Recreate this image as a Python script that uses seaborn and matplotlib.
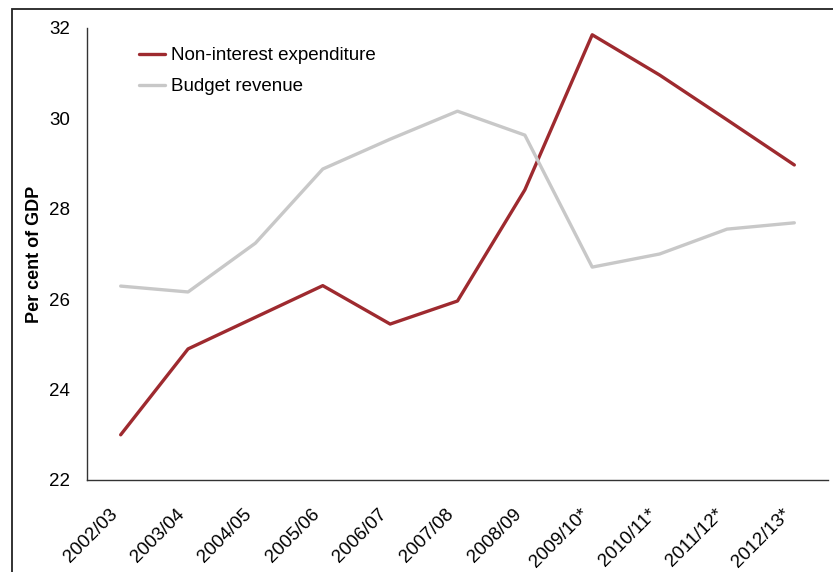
import matplotlib
matplotlib.use("Agg")
import matplotlib.pyplot as plt
import matplotlib.patches as mpatches
import matplotlib.transforms as mtransforms
import seaborn as sns
import pandas as pd

years = ["2002/03", "2003/04", "2004/05", "2005/06", "2006/07", "2007/08",
         "2008/09", "2009/10*", "2010/11*", "2011/12*", "2012/13*"]
expenditure = [23.0, 24.9, 25.6, 26.3, 25.45, 25.96, 28.42, 31.85, 30.96, 29.97, 28.97]
revenue = [26.29, 26.16, 27.24, 28.88, 29.54, 30.16, 29.63, 26.71, 27.0, 27.55, 27.69]

series_names = ["Non-interest expenditure", "Budget revenue"]
colors = ["#9E2A2F", "#C8C8C8"]

df = pd.concat([
    pd.DataFrame({"pos": range(len(years)), "value": expenditure, "series": series_names[0]}),
    pd.DataFrame({"pos": range(len(years)), "value": revenue, "series": series_names[1]}),
])

sns.set_theme(style="white")
plt.rcParams["font.family"] = ["Liberation Sans", "DejaVu Sans"]
plt.rcParams["text.color"] = "black"
plt.rcParams["axes.labelcolor"] = "black"
plt.rcParams["xtick.color"] = "black"
plt.rcParams["ytick.color"] = "black"

fig = plt.figure(figsize=(8.33, 5.72), dpi=100)
ax = fig.add_axes([87 / 833, 1 - 480 / 572, (828 - 87) / 833, (480 - 28) / 572])

sns.lineplot(data=df, x="pos", y="value", hue="series", palette=colors,
             hue_order=series_names, linewidth=2.4, sort=False, ax=ax)

ax.set_xlim(-0.5, len(years) - 0.5)
ax.set_ylim(22, 32)
ax.set_yticks([22, 24, 26, 28, 30, 32])
ax.set_xticks(range(len(years)))
ax.set_xticklabels(years, rotation=45, ha="right", va="center",
                   rotation_mode="anchor", fontsize=13.5)
ax.tick_params(axis="y", labelsize=13.5, length=0, pad=12)
ax.tick_params(axis="x", length=0, pad=23)
shift = mtransforms.ScaledTranslation(-6 / 100, 0, fig.dpi_scale_trans)
for lbl in ax.get_xticklabels():
    lbl.set_transform(lbl.get_transform() + shift)
ax.set_xlabel("")
ax.set_ylabel("Per cent of GDP", fontsize=13, fontweight="bold", labelpad=4.5)

for side in ["top", "right"]:
    ax.spines[side].set_visible(False)
for side in ["left", "bottom"]:
    ax.spines[side].set_color("#333333")
    ax.spines[side].set_linewidth(1.0)

leg = ax.legend(loc="upper left", bbox_to_anchor=(0.047, 0.995), frameon=False,
                fontsize=13.5, handlelength=1.4, handletextpad=0.3, labelspacing=0.75)
for line in leg.get_lines():
    line.set_linewidth(2.4)

# outer frame around the figure
frame = mpatches.Rectangle((11.5 / 833, -0.2), 1.5, 1.2 - 8.5 / 572, transform=fig.transFigure,
                           fill=False, edgecolor="#222222", linewidth=1.3, clip_on=False)
fig.patches.append(frame)

fig.savefig("out.png", dpi=100)
